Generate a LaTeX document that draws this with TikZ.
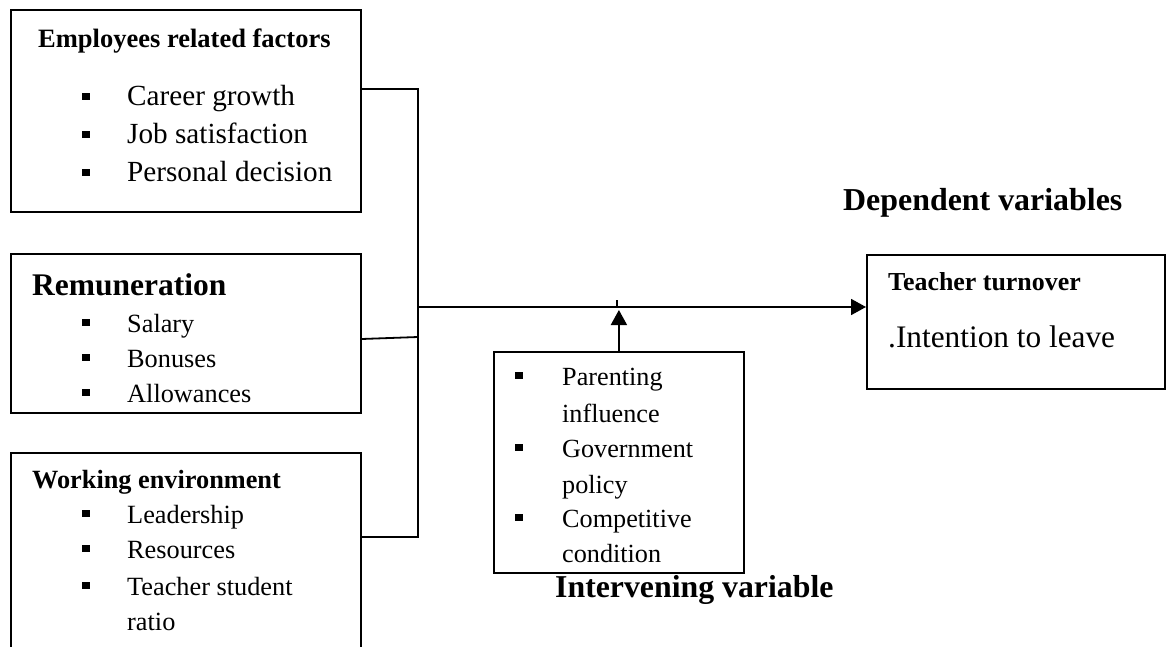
\documentclass[tikz,border=0pt]{standalone}
\usepackage{fontspec}
\setmainfont{Liberation Serif}
\usetikzlibrary{arrows.meta}
\newcommand{\fs}[1]{\fontsize{#1}{#1}\selectfont}
\tikzset{
  box/.style={draw, line width=1.8pt, inner sep=0pt, anchor=north west},
  conn/.style={line width=1.8pt},
  arr/.style={line width=1.8pt, -{Triangle[length=15pt,width=16pt]}},
  txt/.style={anchor=base west, inner sep=0pt},
  bul/.style={fill, minimum width=8pt, minimum height=7pt, inner sep=0pt, anchor=center},
}
\begin{document}
\begin{tikzpicture}[x=1pt,y=-1pt]
\clip (0,0) rectangle (1166,647);
\fill[white] (0,0) rectangle (1166,647);
% boxes
\node[box, minimum width=350pt, minimum height=202pt] (emp) at (10,9) {};
\node[box, minimum width=350pt, minimum height=159pt] (rem) at (10,253) {};
\node[box, minimum width=350pt, minimum height=240pt] (work) at (10,452) {};
\node[box, minimum width=250pt, minimum height=221pt] (int) at (493,351) {};
\node[box, minimum width=298pt, minimum height=134pt] (tt) at (866,254) {};
% employees
\node[txt, font=\bfseries\fs{26.5}] (t1) at (38,48) {Employees related factors};
\foreach \y/\s [count=\i] in {106/Career growth,144/Job satisfaction,182/Personal decision}{
  \node[bul] (b1\i) at (86,\y-9.5) {};
  \node[txt, font=\fs{29.2}] (e\i) at (127,\y) {\s};
}
% remuneration
\node[txt, font=\bfseries\fs{31.5}] (t2) at (32,295) {Remuneration};
\foreach \y/\s [count=\i] in {332/Salary,367/Bonuses,402/Allowances}{
  \node[bul] (b2\i) at (86,\y-9.5) {};
  \node[txt, font=\fs{26.3}] (r\i) at (127,\y) {\s};
}
% working environment
\node[txt, font=\bfseries\fs{26.3}] (t3) at (32,488) {Working environment};
\foreach \y/\s [count=\i] in {523/Leadership,558/Resources,595/Teacher student}{
  \node[bul] (b3\i) at (86,\y-9.5) {};
  \node[txt, font=\fs{26.3}] (w\i) at (127,\y) {\s};
}
\node[txt, font=\fs{26.3}] (w4) at (127,630) {ratio};
% intervening
\foreach \y/\s [count=\i] in {385/Parenting,457/Government,527/Competitive}{
  \node[bul] (b4\i) at (519,\y-9.5) {};
  \node[txt, font=\fs{26.2}] (i\i) at (562,\y) {\s};
}
\node[txt, font=\fs{26.2}] (i4) at (562,422) {influence};
\node[txt, font=\fs{26.2}] (i5) at (562,493) {policy};
\node[txt, font=\fs{26.2}] (i6) at (562,562) {condition};
\node[txt, font=\bfseries\fs{31.8}] (lint) at (555,597) {Intervening variable};
% dependent
\node[txt, font=\bfseries\fs{31.9}] (ldep) at (843,210) {Dependent variables};
\node[txt, font=\bfseries\fs{25.9}] (d1) at (888,290) {Teacher turnover};
\node[txt, font=\fs{31.3}] (d2) at (888,347) {.Intention to leave};
% connectors
\coordinate (j1) at (418,89);
\coordinate (j2) at (418,337);
\coordinate (j3) at (418,537);
\coordinate (j4) at (418,307);
\coordinate (tk) at (617,300);
\draw[conn] (emp.north east |- j1) -- (j1) -- (j3) -- (work.north east |- j3);
\draw[conn] (rem.north east |- 0,339) -- (j2);
\draw[arr] (j4) -- (tt.north west |- j4);
\draw[arr] (int.north) -- ++(0,-41);
\draw[conn] (tk) -- ++(0,7);
\end{tikzpicture}
\end{document}
